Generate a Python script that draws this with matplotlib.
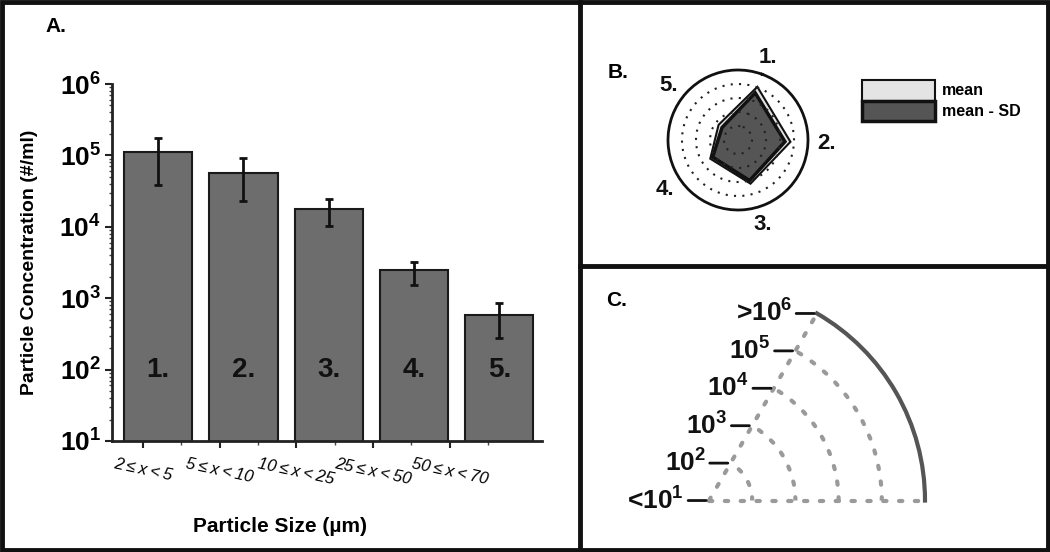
import numpy as np
import matplotlib
matplotlib.use('Agg')
import matplotlib.pyplot as plt
from matplotlib.lines import Line2D
from matplotlib.patches import Rectangle

plt.rcParams['font.family'] = ['Liberation Sans', 'DejaVu Sans']
plt.rcParams['mathtext.fontset'] = 'custom'
plt.rcParams['mathtext.rm'] = 'Liberation Sans'
plt.rcParams['mathtext.bf'] = 'Liberation Sans:bold'

# Data
size_bins = ['2\u2009≤\u2009x\u2009<\u20095', '5\u2009≤\u2009x\u2009<\u200910',
             '10\u2009≤\u2009x\u2009<\u200925', '25\u2009≤\u2009x\u2009<\u200950',
             '50\u2009≤\u2009x\u2009<\u200970']
bar_ids = ['1.', '2.', '3.', '4.', '5.']
conc_mean = [1.1e5, 5.6e4, 1.76e4, 2.45e3, 5.75e2]
conc_hi = [1.74e5, 9.1e4, 2.45e4, 3.2e3, 8.7e2]
conc_lo = [3.85e4, 2.28e4, 1.03e4, 1.52e3, 2.8e2]
decades = [1, 2, 3, 4, 5, 6]
ytick_labels = [r'$\mathbf{10^{%d}}$' % d for d in decades]
ring_labels = [r'<$\mathbf{10^{1}}$', r'$\mathbf{10^{2}}$', r'$\mathbf{10^{3}}$',
               r'$\mathbf{10^{4}}$', r'$\mathbf{10^{5}}$', r'>$\mathbf{10^{6}}$']

W, H = 1050, 552
fig = plt.figure(figsize=(W / 100, H / 100), dpi=100)


def fx(px):
    return px / W


def fy(py):
    return 1 - py / H


# ---------------- Panel A: bar chart ----------------
ax = fig.add_axes([fx(112), fy(441), fx(542 - 112), (441 - 84) / H])
x = np.arange(len(conc_mean))
mean = np.array(conc_mean)
yerr = [mean - np.array(conc_lo), np.array(conc_hi) - mean]
ax.bar(x, mean, width=0.8, color='#6d6d6d', edgecolor='#1a1a1a', linewidth=1.5, zorder=2)
ax.errorbar(x, mean, yerr=yerr, fmt='none', ecolor='#111111', elinewidth=2,
            capsize=3, capthick=2, zorder=3)
for xi, lbl in zip(x, bar_ids):
    ax.text(xi, 100, lbl, ha='center', va='center', fontsize=20,
            fontweight='bold', color='#111111', zorder=4)

ax.set_yscale('log')
ax.set_ylim(10, 1e6)
ax.set_xlim(-0.54, 4.5)
ax.set_yticks([10.0 ** d for d in decades])
ax.set_yticklabels(ytick_labels, fontsize=19)
tick_pos = x * 0.9 - 0.18
ax.set_xticks(tick_pos)
ax.set_xticks(tick_pos + 0.45, minor=True)
ax.set_xticklabels(size_bins, fontsize=12, style='italic', rotation=-12, ha='center')
ax.tick_params(axis='both', which='major', direction='out', length=5, width=1.5, color='#222')
ax.tick_params(axis='y', which='minor', direction='out', length=2.5, width=1, color='#444')
ax.tick_params(axis='x', which='minor', direction='out', length=3, width=1, color='#444')
ax.tick_params(axis='x', pad=6)
ax.tick_params(axis='y', pad=3)
for s in ['top', 'right']:
    ax.spines[s].set_visible(False)
for s in ['left', 'bottom']:
    ax.spines[s].set_linewidth(2)
    ax.spines[s].set_color('#222')
ax.set_ylabel('Particle Concentration (#/ml)', fontsize=14, fontweight='bold')
ax.yaxis.set_label_coords(-(112 - 38) / 430, 0.5)
ax.set_xlabel('Particle Size (µm)', fontsize=15, fontweight='bold')
ax.xaxis.set_label_coords((280 - 112) / 430, -(517 - 441) / 357)

# ---------------- Panel B: radar ----------------
axb = fig.add_axes([fx(668), fy(210), fx(140), 140 / H], projection='polar')
angles = np.arange(len(conc_mean)) * 2 * np.pi / len(conc_mean)
ang_c = np.append(angles, angles[0])
r_mean = np.log10(conc_mean) - 1
r_low = np.log10(conc_lo) - 1
axb.set_theta_offset(np.deg2rad(70))
axb.set_theta_direction(-1)
h_mean = axb.fill(ang_c, np.append(r_mean, r_mean[0]), facecolor='#e4e4e4',
                  edgecolor='#111', linewidth=1.5, label='mean', zorder=1)[0]
h_sd = axb.fill(ang_c, np.append(r_low, r_low[0]), facecolor='#555555',
                edgecolor='#111', linewidth=2.5, label='mean - SD', zorder=1)[0]
axb.set_ylim(0, 5)
axb.set_rgrids([1, 2, 3, 4], labels=['', '', '', ''])
axb.set_xticks([])
axb.grid(True, color='#222', linestyle=(0, (1, 3)), linewidth=1.5)
axb.set_axisbelow(False)
axb.spines['polar'].set_linewidth(2)
axb.spines['polar'].set_color('#111')
for a, lbl in zip(angles, bar_ids):
    axb.text(a, 6.3, lbl, ha='center', va='center', fontsize=16,
             fontweight='bold', color='#111', clip_on=False)
axb.legend(handles=[h_mean, h_sd], loc='upper left',
           bbox_to_anchor=(fx(862), fy(80)), bbox_transform=fig.transFigure,
           frameon=False, handlelength=4.6, handleheight=1.6, labelspacing=0,
           handletextpad=0.4, borderpad=0, borderaxespad=0,
           prop={'weight': 'bold', 'size': 11.5})

# ---------------- Panel C: scale wedge ----------------
axc = fig.add_axes([fx(692), fy(515), fx(250), 216 / H], projection='polar')
axc.set_thetamin(0)
axc.set_thetamax(60)
axc.set_ylim(0, 5)
axc.set_rgrids([1, 2, 3, 4], labels=['', '', '', ''])
axc.set_thetagrids([])
axc.grid(True, color='#9a9a9a', linestyle=(0, (0.8, 3)), linewidth=3,
         dash_capstyle='round')
axc.patch.set_visible(False)
axc.spines['inner'].set_visible(False)
for s in ['start', 'end']:
    axc.spines[s].set_color('#9a9a9a')
    axc.spines[s].set_linewidth(3)
    axc.spines[s].set_linestyle((0, (0.8, 3)))
    axc.spines[s].set_capstyle('round')
axc.spines['polar'].set_linewidth(3)
axc.spines['polar'].set_color('#555')
for r, lbl in enumerate(ring_labels):
    axc.annotate(lbl, xy=(np.deg2rad(60), r), xytext=(-18, 0),
                 textcoords='offset points', ha='right', va='center',
                 fontsize=19, fontweight='bold', color='#111', annotation_clip=False,
                 arrowprops=dict(arrowstyle='-', lw=2, color='#111',
                                 shrinkA=1, shrinkB=2))

# ---------------- Panel letters and frames ----------------
fig.text(fx(45), fy(27), 'A.', fontsize=15, fontweight='bold', va='center')
fig.text(fx(608), fy(72), 'B.', fontsize=15, fontweight='bold', va='center')
fig.text(fx(606), fy(300), 'C.', fontsize=15, fontweight='bold', va='center')

fig.add_artist(Rectangle((fx(2), fy(550)), fx(1046), 548 / H, fill=False,
                         edgecolor='#111', linewidth=3.5, transform=fig.transFigure))
fig.add_artist(Line2D([fx(580), fx(580)], [fy(2), fy(550)], color='#111',
                      linewidth=3.5, transform=fig.transFigure))
fig.add_artist(Line2D([fx(580), fx(1048)], [fy(266), fy(266)], color='#111',
                      linewidth=3.5, transform=fig.transFigure))

fig.savefig('out.png', dpi=100)
